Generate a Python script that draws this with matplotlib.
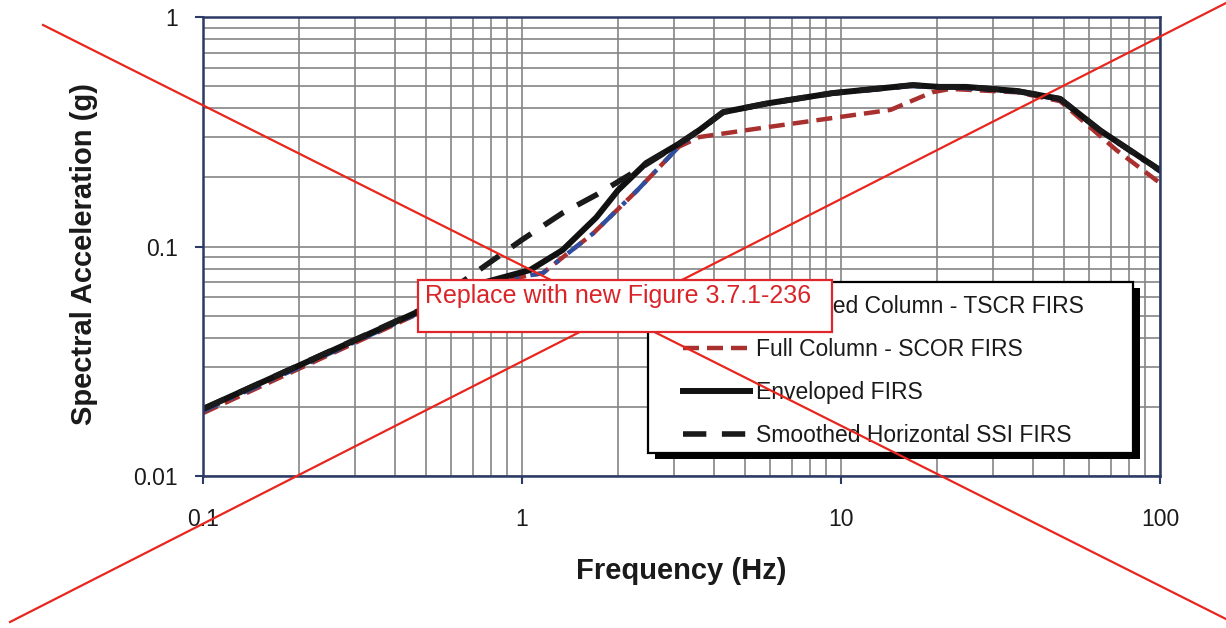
import matplotlib
matplotlib.use('Agg')
import matplotlib.pyplot as plt
import matplotlib.ticker as mticker
from matplotlib import patheffects
from matplotlib.patches import Rectangle
from matplotlib.lines import Line2D

plt.rcParams['font.family'] = ['Liberation Sans', 'DejaVu Sans']

# spectra: frequency (Hz) -> spectral acceleration (g)
freq_trunc = [0.1, 0.74, 1.06, 1.16, 1.67, 2.3, 3.1, 3.6, 4.27, 5.85, 9.4, 16.8, 24.7, 30, 35.6, 48.6, 65, 100]
sa_trunc = [0.0192, 0.068, 0.075, 0.0765, 0.114, 0.176, 0.272, 0.321, 0.383, 0.418, 0.464, 0.500, 0.490, 0.480, 0.472, 0.437, 0.318, 0.212]

freq_full = [0.1, 0.74, 1.06, 1.16, 1.67, 2.3, 3.1, 3.6, 5.85, 9.4, 14.3, 19.3, 22, 35.6, 48.6, 73, 100]
sa_full = [0.0188, 0.068, 0.075, 0.0765, 0.114, 0.176, 0.272, 0.30, 0.331, 0.363, 0.394, 0.47, 0.486, 0.47, 0.43, 0.263, 0.189]

freq_env = [0.1, 0.74, 1.06, 1.34, 1.71, 2.0, 2.45, 3.1, 3.6, 4.27, 5.85, 9.4, 16.8, 20.3, 24.7, 35.6, 48.6, 65, 100]
sa_env = [0.0196, 0.069, 0.079, 0.0965, 0.134, 0.176, 0.231, 0.28, 0.322, 0.385, 0.42, 0.466, 0.505, 0.496, 0.496, 0.476, 0.44, 0.32, 0.215]

freq_ssi = [0.1, 0.5, 0.79, 1.0, 1.34, 1.71, 2.22, 3.1, 3.6, 4.27, 5.85, 9.4, 16.8, 20.3, 24.7, 35.6, 48.6, 65, 100]
sa_ssi = [0.0196, 0.0543, 0.085, 0.107, 0.14, 0.168, 0.209, 0.28, 0.322, 0.385, 0.42, 0.466, 0.505, 0.496, 0.496, 0.476, 0.44, 0.32, 0.215]

labels = ['Truncated Column - TSCR FIRS', 'Full Column - SCOR FIRS',
          'Enveloped FIRS', 'Smoothed Horizontal SSI FIRS']

x_ticks = [0.1, 1, 10, 100]
x_ticklabels = ['0.1', '1', '10', '100']
y_ticks = [0.01, 0.1, 1]
y_ticklabels = ['0.01', '0.1', '1']

navy = '#2c3b66'
ink = '#1a1a1a'

fig = plt.figure(figsize=(12.26, 6.28), dpi=100)
ax = fig.add_axes([0.1656, 0.2420, 0.7806, 0.7309])

# blue sits on top of red where the two coincide
ax.plot(freq_trunc, sa_trunc, color='#2f4f9e', lw=3.2, dashes=(4, 2.5, 1, 2.5), label=labels[0], zorder=2.2)
ax.plot(freq_full, sa_full, color='#a8302e', lw=3.2, dashes=(3.6, 1.8), label=labels[1], zorder=2.1)
ax.plot(freq_env, sa_env, color='#111111', lw=4.3, label=labels[2], zorder=2.3)
ax.plot(freq_ssi, sa_ssi, color='#1a1a1a', lw=4.0, dashes=(4.2, 2.8), label=labels[3], zorder=2.4)

ax.set_xscale('log')
ax.set_yscale('log')
ax.set_xlim(0.1, 100)
ax.set_ylim(0.01, 1)
ax.xaxis.set_major_locator(mticker.FixedLocator(x_ticks))
ax.xaxis.set_major_formatter(mticker.FixedFormatter(x_ticklabels))
ax.yaxis.set_major_locator(mticker.FixedLocator(y_ticks))
ax.yaxis.set_major_formatter(mticker.FixedFormatter(y_ticklabels))
ax.xaxis.set_minor_formatter(mticker.NullFormatter())
ax.yaxis.set_minor_formatter(mticker.NullFormatter())

ax.grid(True, which='both', color='#858585', lw=1.2)
ax.set_axisbelow(True)
for s in ax.spines.values():
    s.set_color(navy)
    s.set_linewidth(1.8)

ax.tick_params(which='major', direction='out', length=6, width=1.5, color=navy,
               labelsize=16.5, labelcolor=ink)
ax.tick_params(axis='x', which='major', pad=17)
ax.tick_params(axis='y', which='major', pad=12)
ax.tick_params(which='minor', length=0)

ax.set_xlabel('Frequency (Hz)', fontsize=21, fontweight='bold', color=ink)
ax.set_ylabel('Spectral Acceleration (g)', fontsize=21, fontweight='bold', color=ink)
ax.xaxis.set_label_coords(0.5, -0.1765)
ax.yaxis.set_label_coords(-0.1097, 0.4837)

# legend box with heavy drop shadow
frame = Rectangle((0.465, 0.0501), 0.5068, 0.3726, transform=ax.transAxes,
                  facecolor='white', edgecolor='black', lw=1.6, zorder=4)
frame.set_path_effects([patheffects.SimplePatchShadow(offset=(5, -4), shadow_rgbFace='black', alpha=1),
                        patheffects.Normal()])
ax.add_patch(frame)
leg = ax.legend(loc='upper left', bbox_to_anchor=(0.5016, 0.394), frameon=False,
                fontsize=16.5, handlelength=2.9, handletextpad=0.3, labelspacing=0.87,
                borderpad=0, borderaxespad=0)
for t in leg.get_texts():
    t.set_color(ink)

# red "replace" overlay
red = '#e8261e'
fig.add_artist(Line2D([0.0351, 1.0], [0.9602, 0.0143], color=red, lw=1.6, zorder=10))
fig.add_artist(Line2D([0.0082, 1.0], [0.0096, 0.9952], color=red, lw=1.6, zorder=10))
fig.add_artist(Rectangle((0.3409, 0.4713), 0.3377, 0.0828, transform=fig.transFigure,
                         facecolor='white', edgecolor='#e0262a', lw=1.6, zorder=11))
fig.text(0.3467, 0.5175, 'Replace with new Figure 3.7.1-236', color='#d9252a',
         fontsize=18, va='baseline', ha='left', zorder=12)

fig.savefig('out.png', dpi=100)
